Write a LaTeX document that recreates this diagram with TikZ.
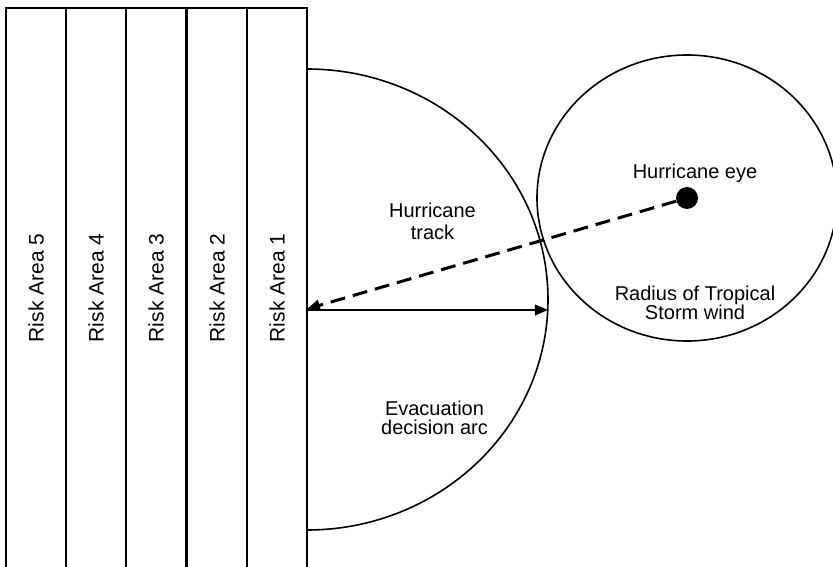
\documentclass[tikz,border=0pt]{standalone}
\usepackage{fontspec}
\setmainfont{Liberation Sans}
\usetikzlibrary{arrows.meta}
\begin{document}
\begin{tikzpicture}[x=1pt,y=1pt,
  stripbox/.style={draw, line width=1.5pt, minimum width=60pt, minimum height=600pt, anchor=north west, inner sep=0pt, outer sep=0pt},
  risklabel/.style={rotate=90, inner sep=0pt, font=\fontsize{21}{22}\selectfont},
  lbl/.style={align=center, inner sep=0pt, font=\fontsize{20}{19.5}\selectfont},
  outline/.style={line width=1.6pt},
  track/.style={line width=3pt, dash pattern=on 15pt off 8pt, -{Triangle[length=13pt,width=11pt]}},
  reach/.style={line width=1.5pt, -{Triangle[length=13pt,width=11pt]}},
]
\path[use as bounding box, clip] (0,0) rectangle (833,566);
\fill[white] (0,0) rectangle (833,566);
% risk area strips
\node[stripbox] (ra5) at (6,558) {};
\node[stripbox] (ra4) at (66,558) {};
\node[stripbox] (ra3) at (126,558) {};
\node[stripbox] (ra2) at (187,558) {};
\node[stripbox, minimum width=60pt] (ra1) at (247,558) {};
\node[risklabel] (l5) at (36,278) {Risk Area 5};
\node[risklabel] (l4) at (96,278) {Risk Area 4};
\node[risklabel] (l3) at (156,278) {Risk Area 3};
\node[risklabel] (l2) at (217,278) {Risk Area 2};
\node[risklabel] (l1) at (277,278) {Risk Area 1};
% evacuation decision arc
\draw[outline] (307,497) arc[start angle=90, end angle=-90, x radius=241, y radius=230.5];
% tropical storm wind radius
\draw[outline] (687,368) ellipse[x radius=150, y radius=143];
% hurricane eye
\node[circle, fill=black, minimum size=22pt, inner sep=0pt] (eye) at (687,368) {};
\coordinate (landfall) at (307,257);
\coordinate (arcstart) at (307,256);
\coordinate (arcend) at (547.8,256);
\draw[track] (eye) -- (landfall);
\draw[reach] (arcstart) -- (arcend);
% labels
\node[lbl, font=\fontsize{20}{22}\selectfont] (tracklbl) at (432.5,345) {Hurricane\\track};
\node[lbl, anchor=base] (eyelbl) at (695,387) {Hurricane eye};
\node[lbl] (radlbl) at (695,263) {Radius of Tropical\\Storm wind};
\node[lbl] (evaclbl) at (434.5,148) {Evacuation\\decision arc};
\end{tikzpicture}
\end{document}
